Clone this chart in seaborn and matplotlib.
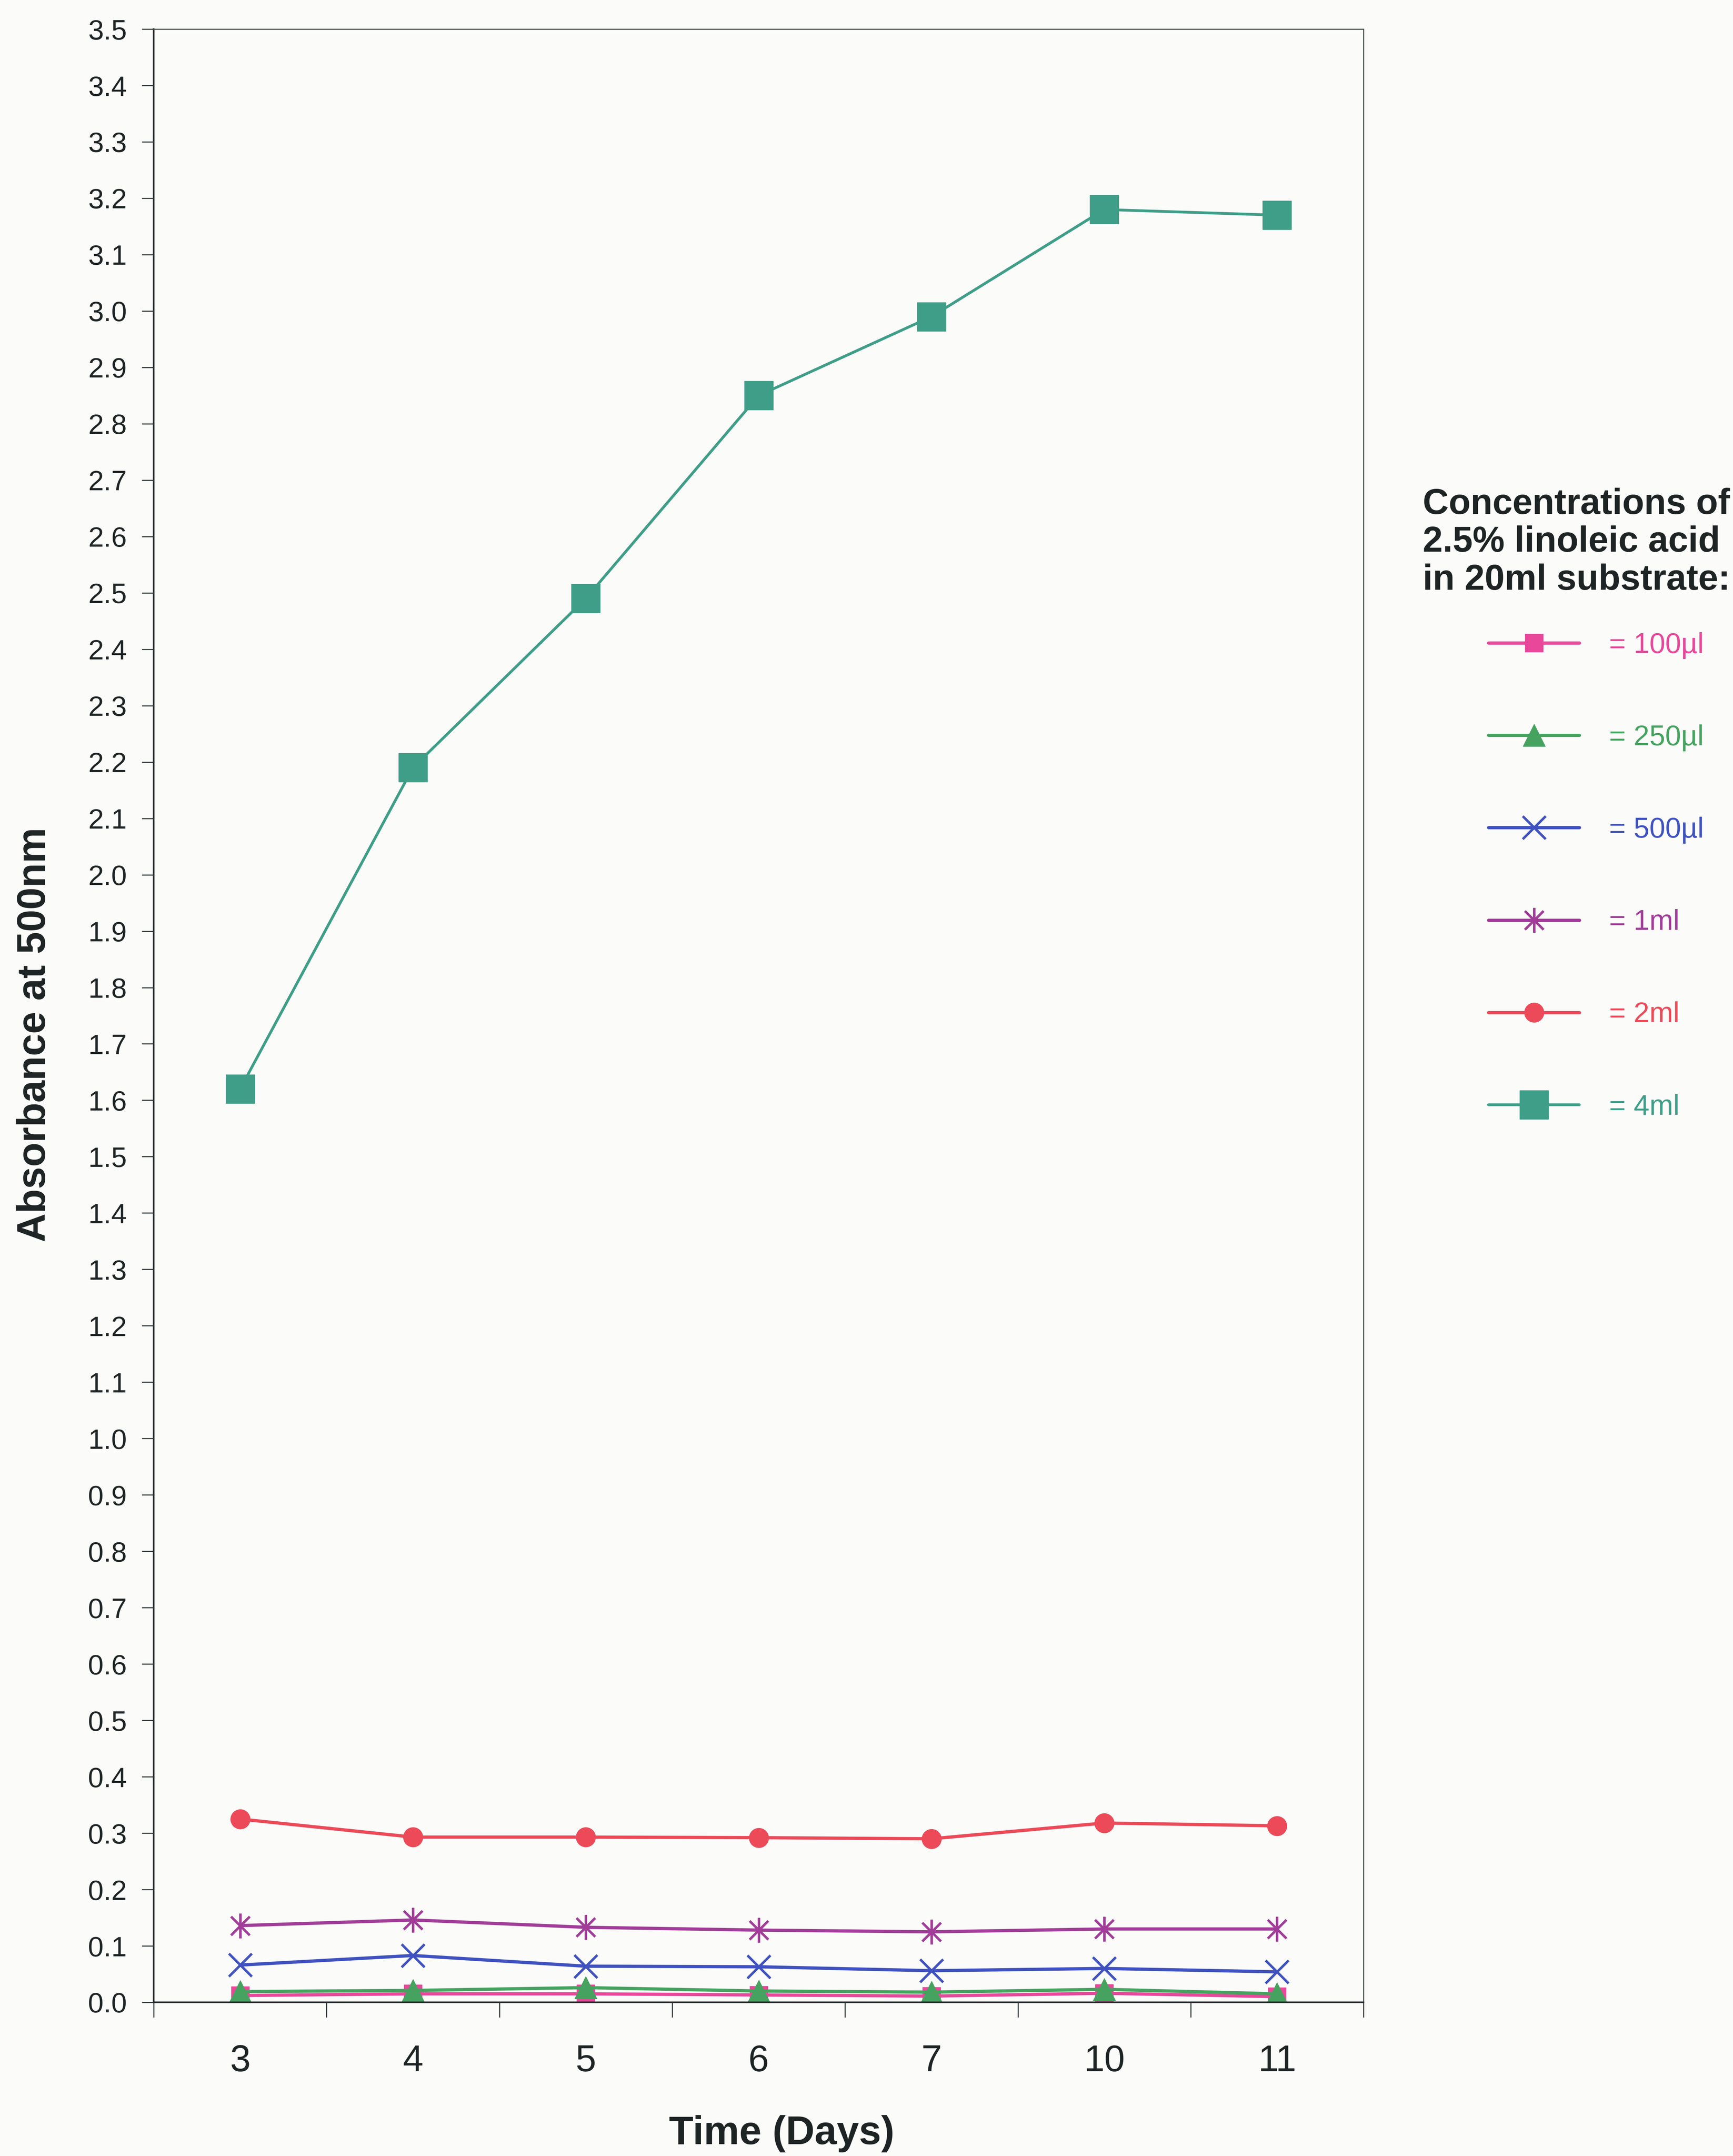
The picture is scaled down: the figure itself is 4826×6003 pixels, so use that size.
import matplotlib
matplotlib.use("Agg")
import matplotlib.pyplot as plt
from matplotlib.path import Path
from matplotlib.ticker import FixedLocator, MultipleLocator, FormatStrFormatter
import seaborn as sns
import pandas as pd

# ---- data -------------------------------------------------------------
days = ["3", "4", "5", "6", "7", "10", "11"]

abs_100ul = [0.012, 0.015, 0.015, 0.013, 0.011, 0.016, 0.010]
abs_250ul = [0.019, 0.021, 0.026, 0.020, 0.018, 0.023, 0.015]
abs_500ul = [0.066, 0.083, 0.064, 0.063, 0.056, 0.060, 0.054]
abs_1ml = [0.136, 0.146, 0.133, 0.128, 0.125, 0.130, 0.130]
abs_2ml = [0.325, 0.293, 0.293, 0.292, 0.290, 0.318, 0.313]
abs_4ml = [1.62, 2.19, 2.49, 2.85, 2.99, 3.18, 3.17]

series_labels = ["= 100µl", "= 250µl", "= 500µl", "= 1ml", "= 2ml", "= 4ml"]
series_values = [abs_100ul, abs_250ul, abs_500ul, abs_1ml, abs_2ml, abs_4ml]

legend_title = ["Concentrations of", "2.5% linoleic acid", "in 20ml substrate:"]
y_label = "Absorbance at 500nm"
x_label = "Time (Days)"

# ---- styling ----------------------------------------------------------
sns.set_theme(style="white")
plt.rcParams["font.family"] = ["Liberation Sans", "DejaVu Sans"]

BG = "#fbfbfa"
INK = "#1e2424"

# Excel-style asterisk: an X with a vertical bar through it
asterisk = Path(
    [(0, -1), (0, 1), (-0.75, -0.75), (0.75, 0.75), (-0.75, 0.75), (0.75, -0.75)],
    [Path.MOVETO, Path.LINETO, Path.MOVETO, Path.LINETO, Path.MOVETO, Path.LINETO],
)

styles = {
    "= 100µl": dict(color="#e8479a", marker="s", ms=36, mew=1, lw=6.5),
    "= 250µl": dict(color="#45a35f", marker="^", ms=44, mew=1, lw=6.5),
    "= 500µl": dict(color="#3f52c0", marker="x", ms=46, mew=5, lw=6.5),
    "= 1ml": dict(color="#a13d98", marker=asterisk, ms=50, mew=5, lw=6.5),
    "= 2ml": dict(color="#ec4a58", marker="o", ms=39, mew=1, lw=6.5),
    "= 4ml": dict(color="#3f9e88", marker="s", ms=58, mew=1, lw=5.5),
}

df = pd.DataFrame(
    [
        {"day": d, "absorbance": v, "conc": lab}
        for lab, vals in zip(series_labels, series_values)
        for d, v in zip(days, vals)
    ]
)

fig = plt.figure(figsize=(48.26, 60.03), dpi=100, facecolor=BG)
ax = fig.add_axes([0.0887, 0.0713, 0.6981, 0.9152])
ax.set_facecolor(BG)

draw_order = ["= 4ml", "= 2ml", "= 1ml", "= 500µl", "= 100µl", "= 250µl"]
handles = {}
for lab in draw_order:
    st = styles[lab]
    sub = df[df["conc"] == lab]
    sns.lineplot(
        data=sub, x="day", y="absorbance", ax=ax, sort=False,
        color=st["color"], linewidth=st["lw"],
        marker=st["marker"], markersize=st["ms"],
        markeredgewidth=st["mew"], markeredgecolor=st["color"],
        markerfacecolor=st["color"], label=lab, legend=False,
    )
    handles[lab] = ax.lines[-1]

# ---- axes ---------------------------------------------------------------
ax.set_xlim(-0.5, len(days) - 0.5)
ax.set_ylim(0, 3.5)
ax.yaxis.set_major_locator(MultipleLocator(0.1))
ax.yaxis.set_major_formatter(FormatStrFormatter("%.1f"))
ax.xaxis.set_minor_locator(FixedLocator([i - 0.5 for i in range(len(days) + 1)]))

ax.tick_params(axis="y", which="major", direction="out", length=24, width=2.2,
               color="#3a4040", pad=30, labelsize=56, labelcolor=INK, left=True)
ax.tick_params(axis="x", which="major", length=0, pad=84, labelsize=74, labelcolor=INK,
               bottom=True)
ax.tick_params(axis="x", which="minor", direction="out", length=30, width=2.2,
               color="#3a4040", bottom=True)

for side in ["left", "bottom"]:
    ax.spines[side].set_color("#2a2e2e")
    ax.spines[side].set_linewidth(3.2)
for side in ["top", "right"]:
    ax.spines[side].set_color("#4a5252")
    ax.spines[side].set_linewidth(2.2)
ax.set_xlabel("")
ax.set_ylabel("")
ax.grid(False)

label_font = dict(family=["Liberation Sans"], weight="bold", color=INK)
fig.text(97 / 4826, 1 - 2881 / 6003, y_label, rotation=90, ha="center", va="center",
         fontsize=80, **label_font)
fig.text(2177 / 4826, 1 - 5941 / 6003, x_label, ha="center", va="center",
         fontsize=80, **label_font)

# ---- legend -------------------------------------------------------------
for line, base in zip(legend_title, [1431, 1536, 1642]):
    fig.text(3962 / 4826, 1 - base / 6003, line, ha="left", va="baseline",
             fontsize=72, fontweight="bold", color=INK)

leg = fig.legend(
    [handles[lab] for lab in series_labels], series_labels,
    loc="upper left", bbox_to_anchor=(4145 / 4826, 1 - 1760 / 6003),
    frameon=False, fontsize=57, borderpad=0, borderaxespad=0,
    handlelength=3.2, handletextpad=1.05, labelspacing=2.3,
)
for txt, lab in zip(leg.get_texts(), series_labels):
    txt.set_color(styles[lab]["color"])

fig.savefig("out.png", dpi=100, facecolor=BG)
